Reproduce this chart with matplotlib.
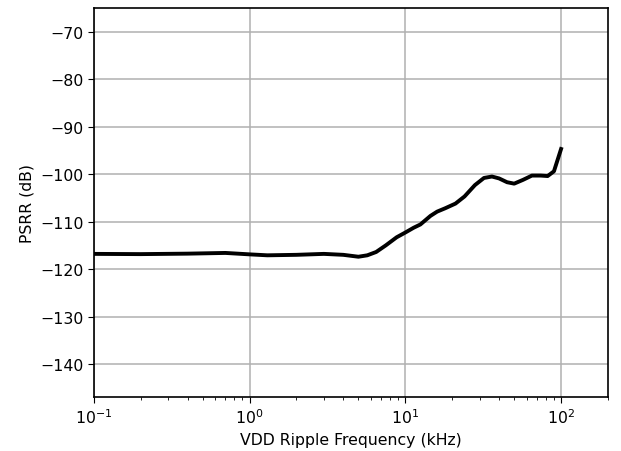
import matplotlib
matplotlib.use("Agg")
import matplotlib.pyplot as plt
import numpy as np

# PSRR vs ripple frequency
freq_khz = [0.1, 0.2, 0.4, 0.7, 1.0, 1.3, 2.0, 3.0, 4.0, 5.0, 5.7, 6.5, 7.5,
            8.8, 10, 11.3, 12.5, 14.5, 16, 18, 21, 24, 28, 32, 36, 40, 45,
            50, 57, 65, 74, 82, 90, 100]
psrr_db = [-116.8, -116.85, -116.75, -116.6, -116.9, -117.1, -117.0, -116.8,
           -117.0, -117.4, -117.1, -116.4, -115.0, -113.3, -112.3, -111.3,
           -110.6, -108.8, -107.9, -107.2, -106.2, -104.7, -102.3, -100.8,
           -100.5, -100.9, -101.7, -102.0, -101.2, -100.3, -100.3, -100.4,
           -99.4, -94.7]

plt.rcParams['font.size'] = 11.3
plt.rcParams['xtick.major.size'] = 4
plt.rcParams['ytick.major.size'] = 4
plt.rcParams['xtick.minor.size'] = 2.3

fig = plt.figure(figsize=(6.21, 4.52), dpi=100)
ax = fig.add_axes([0.151, 0.119, 0.828, 0.861])

ax.plot(freq_khz, psrr_db, color='black', linewidth=2.8, zorder=3)
ax.set_xscale('log')
ax.set_xlim(0.1, 200)
ax.set_ylim(-147, -65)
ax.set_yticks(np.arange(-140, -69, 10))
ax.grid(True, which='major', color='#b0b0b0', linewidth=1.1)
ax.set_xlabel('VDD Ripple Frequency (kHz)')
ax.set_ylabel('PSRR (dB)')
for s in ax.spines.values():
    s.set_linewidth(1.2)

fig.savefig('out.png', dpi=100)
